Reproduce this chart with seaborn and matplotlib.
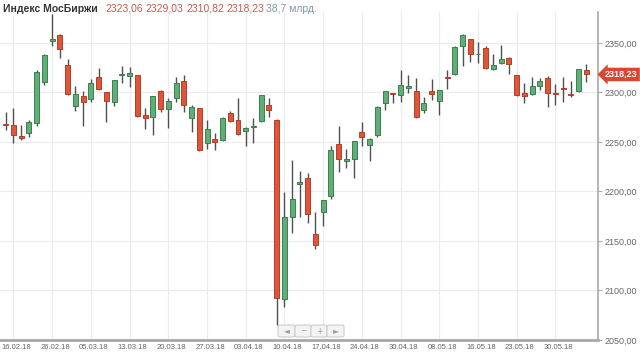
import matplotlib
matplotlib.use("Agg")
import matplotlib.pyplot as plt
import matplotlib.patches as mpatches
import matplotlib.transforms as mtrans
import seaborn as sns
import numpy as np
import pandas as pd

# ---- data ----
opens = [2268.5, 2267, 2256, 2259, 2269.5, 2311, 2352, 2358, 2328, 2286.5,
         2296, 2293.5, 2316, 2300, 2290.5, 2317.5, 2316.5, 2317.5, 2277.5, 2275.5,
         2302, 2283, 2294, 2311.5, 2274, 2284, 2248.5, 2253, 2252.5, 2279,
         2272, 2261, 2265, 2271, 2287.5, 2272.5, 2091, 2174, 2208, 2213.5,
         2157, 2179.5, 2195, 2248, 2231, 2232.5, 2260.5, 2247, 2257, 2289,
         2299, 2297, 2305, 2302, 2282.5, 2302, 2291.5, 2316, 2318.5, 2346.5,
         2354, 2338.5, 2344.5, 2323.5, 2329.5, 2334.5, 2317.5, 2299, 2298.5, 2307,
         2315, 2299, 2305, 2298, 2301.5, 2323.06]
highs = [2280, 2284, 2267, 2272, 2323, 2339, 2379, 2359, 2333.5, 2307,
         2302, 2314, 2325, 2300.5, 2313, 2327, 2326, 2318, 2284, 2296,
         2303, 2294, 2316, 2318, 2287.5, 2284.5, 2272, 2259, 2275.5, 2281.5,
         2294, 2265, 2274, 2297.5, 2294, 2273, 2199, 2232, 2220.5, 2219,
         2179.5, 2191.5, 2246, 2266, 2242.5, 2251, 2270.5, 2254, 2286, 2301.5,
         2299.5, 2322.5, 2317.5, 2314.5, 2295, 2313.5, 2302.5, 2322.5, 2346.5, 2359,
         2354.5, 2350.5, 2346.5, 2338.5, 2348, 2336, 2318, 2310, 2316, 2315,
         2316.5, 2308.5, 2316, 2311.5, 2323.5, 2329.03]
lows = [2262, 2249, 2252, 2255, 2266, 2308, 2347, 2334.5, 2297.5, 2281.5,
        2266, 2290.5, 2302.5, 2270.5, 2286, 2310, 2306, 2275.5, 2263, 2257,
        2280.5, 2264, 2290.5, 2280.5, 2260.5, 2241, 2242.5, 2242, 2251, 2270.5,
        2257, 2246, 2248.5, 2270.5, 2275.5, 2065, 2083, 2158, 2174.5, 2168,
        2141.5, 2165.5, 2192, 2220, 2223.5, 2213.5, 2246, 2231, 2255, 2282.5,
        2289, 2290, 2299, 2274, 2279, 2292.5, 2277.5, 2303.5, 2317.5, 2327,
        2330.5, 2329.5, 2324, 2322.5, 2329, 2318.5, 2296, 2289.5, 2297.5, 2302.5,
        2285.5, 2287.5, 2290, 2295, 2301, 2310.82]
closes = [2267, 2257, 2254, 2270.5, 2321, 2338, 2354, 2343.5, 2298.5, 2298.5,
          2290, 2310, 2304, 2291.5, 2312.5, 2318.5, 2320, 2276.5, 2274, 2296,
          2283, 2291.5, 2309.5, 2287.5, 2285.5, 2242, 2263, 2250, 2274.5, 2271.5,
          2258, 2264.5, 2266, 2297.5, 2282.5, 2092, 2174, 2192, 2210, 2177,
          2145.5, 2191.5, 2242, 2232.5, 2233, 2251, 2255, 2253.5, 2285.5, 2301.5,
          2298, 2307.5, 2306.5, 2275, 2289, 2298.5, 2302.5, 2314.5, 2346, 2358,
          2339, 2339, 2324.5, 2328, 2333.5, 2328.5, 2297, 2296, 2306.5, 2311.5,
          2299, 2298, 2303.5, 2297, 2323.5, 2318.23]
tick_labels = ["16.02.18", "26.02.18", "05.03.18", "13.03.18", "20.03.18",
               "27.03.18", "03.04.18", "10.04.18", "17.04.18", "24.04.18",
               "30.04.18", "08.05.18", "16.05.18", "23.05.18", "30.05.18"]
y_ticks = [2050, 2100, 2150, 2200, 2250, 2300, 2350]
last_price = 2318.23
header_name = "Индекс МосБиржи"
header_values = ["2323,06", "2329,03", "2310,82", "2318,23"]
header_volume = "38,7 млрд."

# ---- style ----
sns.set_theme(style="white")
plt.rcParams['font.family'] = ['Liberation Sans', 'DejaVu Sans']

df = pd.DataFrame({"o": opens, "h": highs, "l": lows, "c": closes})
df["idx"] = np.arange(len(df))
df["up"] = df["c"] >= df["o"]
df["bottom"] = df[["o", "c"]].min(axis=1)
df["height"] = (df["c"] - df["o"]).abs().clip(lower=0.6)

W, H = 640, 360
fig = plt.figure(figsize=(6.4, 3.6), dpi=100)
fig.patch.set_facecolor("white")
ax = fig.add_axes([0, 20 / H, 598 / W, 328 / H])
ax.set_facecolor("white")

GREEN, GREEN_E = "#5fae76", "#3b7f50"
RED, RED_E = "#e0553a", "#b23f28"

ax.vlines(df["idx"], df["l"], df["h"], color="#505050", lw=1.0, zorder=2)
up = df[df["up"]]
dn = df[~df["up"]]
ax.bar(up["idx"], up["height"], bottom=up["bottom"], width=0.64,
       color=GREEN, edgecolor=GREEN_E, linewidth=0.7, zorder=3)
ax.bar(dn["idx"], dn["height"], bottom=dn["bottom"], width=0.64,
       color=RED, edgecolor=RED_E, linewidth=0.7, zorder=3)

ax.set_xlim(-0.74, 76.5)
ax.set_ylim(2050, 2381.3)

tick_pos = list(range(1, 1 + 5 * len(tick_labels), 5))
ax.set_xticks(tick_pos)
ax.set_xticklabels(tick_labels)
ax.set_yticks(y_ticks)
ax.set_yticklabels([f"{v:.2f}".replace(".", ",") for v in y_ticks])
ax.yaxis.tick_right()
ax.set_axisbelow(True)
ax.grid(True, color="#ebebeb", lw=0.8)

for s in ["top", "left"]:
    ax.spines[s].set_visible(False)
ax.spines["right"].set_color("#a8a8a8")
ax.spines["right"].set_linewidth(1.2)
ax.spines["bottom"].set_color("#a8a8a8")
ax.spines["bottom"].set_linewidth(2.0)

ax.tick_params(axis="y", which="both", direction="out", length=3, width=0.8,
               color="#b0b0b0", labelsize=6.5, labelcolor="#666666", pad=2,
               left=False, right=True)
ax.tick_params(axis="x", length=0, labelsize=5.5, labelcolor="#666666", pad=3)
for lab in ax.get_xticklabels():
    lab.set_transform(lab.get_transform() +
                      mtrans.ScaledTranslation(3 / 100, 0, fig.dpi_scale_trans))

# price tag
ax.annotate("2318,23", xy=(1.0, last_price), xycoords=("axes fraction", "data"),
            xytext=(5, 0), textcoords="offset points", ha="left", va="center",
            fontsize=6.5, color="white", fontweight="bold",
            bbox=dict(boxstyle="larrow,pad=0.25", fc="#d9472f", ec="none"),
            annotation_clip=False, zorder=10)

# header
yh = 1 - 8.5 / H
fig.text(3 / W, yh, header_name, fontsize=7.5, fontweight="bold",
         color="#333333", va="center", ha="left")
for xp, t in zip([105, 145, 186, 226], header_values):
    fig.text(xp / W, yh, t, fontsize=7.5, color="#c85a4c", va="center", ha="left")
fig.text(266 / W, yh, header_volume, fontsize=7.5, color="#7f96a8",
         va="center", ha="left")

# navigation buttons
btns = [(278, 295, "◄"), (295, 311, "−"), (311, 327, "+"), (327, 344, "►")]
for x0, x1, g in btns:
    r = mpatches.FancyBboxPatch((x0 / W, 1 - 337 / H), (x1 - x0) / W, 12 / H,
                                boxstyle="round,pad=0,rounding_size=0.004",
                                transform=fig.transFigure, fc="#f3f3f3",
                                ec="#c8c8c8", lw=0.7, zorder=20)
    fig.add_artist(r)
    fig.text((x0 + x1) / 2 / W, 1 - 331 / H, g, fontsize=5.5, color="#9a9a9a",
             ha="center", va="center", zorder=21,
             family=["DejaVu Sans"])

fig.savefig("out.png", dpi=100, facecolor="white")
